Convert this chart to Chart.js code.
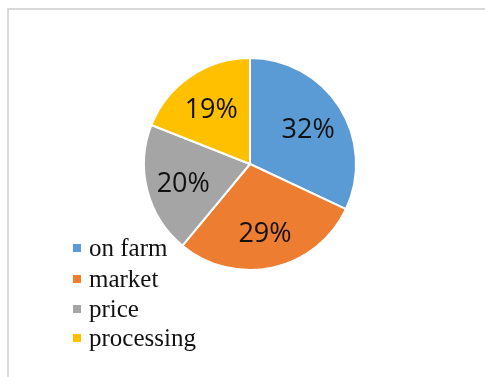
<!DOCTYPE html>
<html>
<head>
<meta charset="utf-8">
<script src="https://cdn.jsdelivr.net/npm/chart.js@4"></script>
<style>
    html, body { margin: 0; padding: 0; background: #fff; }
    #wrap { position: relative; width: 485px; height: 377px; overflow: hidden; }
    #frame { position: absolute; left: 7px; top: 8px; width: 600px; height: 500px;
             border-top: 2px solid #d9d9d9; border-left: 2px solid #d9d9d9; }
    #chart { position: absolute; left: 0; top: 0; }
</style>
</head>
<body>
<div id="wrap">
    <div id="frame"></div>
    <canvas id="chart" width="485" height="377"></canvas>
</div>
<script>
// chart data
const categories = ['on farm', 'market', 'price', 'processing'];
const shares = [32, 29, 20, 19];
const colors = ['#5B9BD5', '#ED7D31', '#A5A5A5', '#FFC000'];

// percentage labels inside slices
const sliceLabels = {
    id: 'sliceLabels',
    afterDatasetsDraw(chart) {
        const ctx = chart.ctx;
        const meta = chart.getDatasetMeta(0);
        ctx.save();
        ctx.font = '27px "Open Sans"';
        ctx.fillStyle = '#111';
        ctx.textAlign = 'center';
        ctx.textBaseline = 'middle';
        meta.data.forEach((arc, i) => {
            const mid = (arc.startAngle + arc.endAngle) / 2;
            const r = arc.outerRadius * 0.65;
            const x = arc.x + Math.cos(mid) * r;
            const y = arc.y + Math.sin(mid) * r + 3;
            ctx.fillText(shares[i] + '%', x, y);
        });
        ctx.restore();
    }
};

// legend at lower left
const sideLegend = {
    id: 'sideLegend',
    afterDraw(chart) {
        const ctx = chart.ctx;
        const rows = [248, 279, 309, 338];
        ctx.save();
        ctx.font = '25px "Liberation Serif"';
        ctx.textBaseline = 'middle';
        chart.data.labels.forEach((label, i) => {
            ctx.fillStyle = chart.data.datasets[0].backgroundColor[i];
            ctx.fillRect(73, rows[i] - 4, 8, 8);
            ctx.fillStyle = '#111';
            ctx.fillText(label, 89, rows[i] + 1);
        });
        ctx.restore();
    }
};

let ctx = document.getElementById('chart').getContext('2d');
let myChart = new Chart(ctx, {
    type: 'pie',
    data: {
        labels: categories,
        datasets: [{
            data: shares,
            backgroundColor: colors,
            borderColor: '#ffffff',
            borderWidth: 2
        }]
    },
    options: {
        responsive: false,
        animation: false,
        layout: {
            padding: { left: 143, right: 128, top: 57, bottom: 106 }
        },
        plugins: {
            legend: { display: false },
            tooltip: { enabled: false }
        }
    },
    plugins: [sliceLabels, sideLegend]
});
</script>
</body>
</html>
